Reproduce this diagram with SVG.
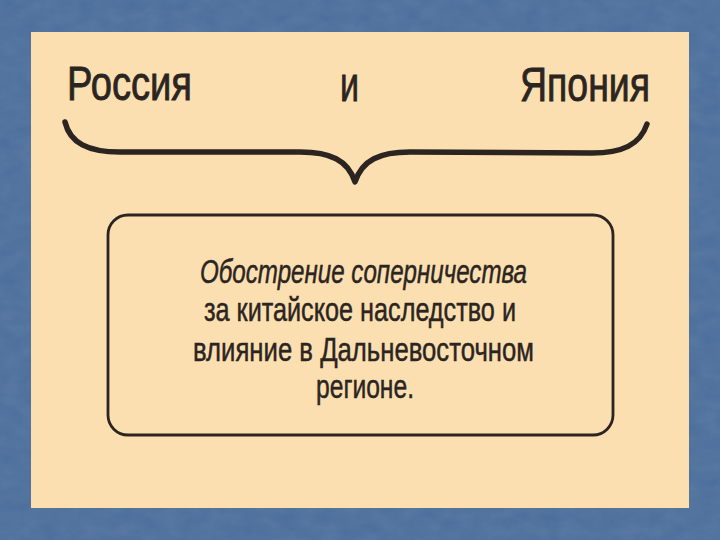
<svg xmlns="http://www.w3.org/2000/svg" width="720" height="540" viewBox="0 0 720 540">
  <style>
    .head { font-family: "Liberation Sans", Arial, sans-serif; font-size: 49px; fill: #2b2522; stroke: #2b2522; stroke-width: 0.9px; }
    .body { font-family: "Liberation Sans", Arial, sans-serif; font-size: 34px; fill: #2b2522; stroke: #2b2522; stroke-width: 0.5px; }
    .it { font-style: italic; }
    .line { fill: none; stroke: #2b2420; stroke-linecap: round; stroke-linejoin: round; }
  </style>
  <defs>
    <filter id="tex" x="0" y="0" width="100%" height="100%">
      <feTurbulence type="fractalNoise" baseFrequency="0.05 0.08" numOctaves="3" seed="4"/>
      <feColorMatrix type="matrix" values="0 0 0 0 1  0 0 0 0 1  0 0 0 0 1  0 0 0 0.09 0"/>
      <feComposite in2="SourceGraphic" operator="in"/>
    </filter>
  </defs>
  <g id="background">
    <rect x="0" y="0" width="720" height="540" fill="#4a6d9a"/>
    <rect x="0" y="0" width="720" height="540" fill="#4a6d9a" filter="url(#tex)"/>
    <rect x="31" y="32" width="658" height="476" fill="#fcdfb0"/>
  </g>
  <g id="russia">
    <text class="head" x="67" y="100" textLength="125" lengthAdjust="spacingAndGlyphs">Россия</text>
  </g>
  <g id="and">
    <text class="head" x="340" y="101" textLength="19" lengthAdjust="spacingAndGlyphs">и</text>
  </g>
  <g id="japan">
    <text class="head" x="520" y="101" textLength="130" lengthAdjust="spacingAndGlyphs">Япония</text>
  </g>
  <g id="connectors">
    <path class="line" stroke-width="5.5" d="M65,122 C70,143 88,152 120,152 L300,152 C330,152 348,160 355,182 C362,160 380,152 410,152 L592,153 C622,153 640,145 647,124"/>
  </g>
  <g id="box">
    <rect class="line" x="108" y="215" width="505" height="220" rx="20" ry="20" stroke-width="2.8"/>
    <text class="body it" x="200" y="283" textLength="327" lengthAdjust="spacingAndGlyphs">Обострение соперничества</text>
    <text class="body" x="204" y="321" textLength="312" lengthAdjust="spacingAndGlyphs">за китайское наследство и</text>
    <text class="body" x="193" y="361" textLength="341" lengthAdjust="spacingAndGlyphs">влияние в Дальневосточном</text>
    <text class="body" x="316" y="398" textLength="98" lengthAdjust="spacingAndGlyphs">регионе.</text>
  </g>
</svg>
